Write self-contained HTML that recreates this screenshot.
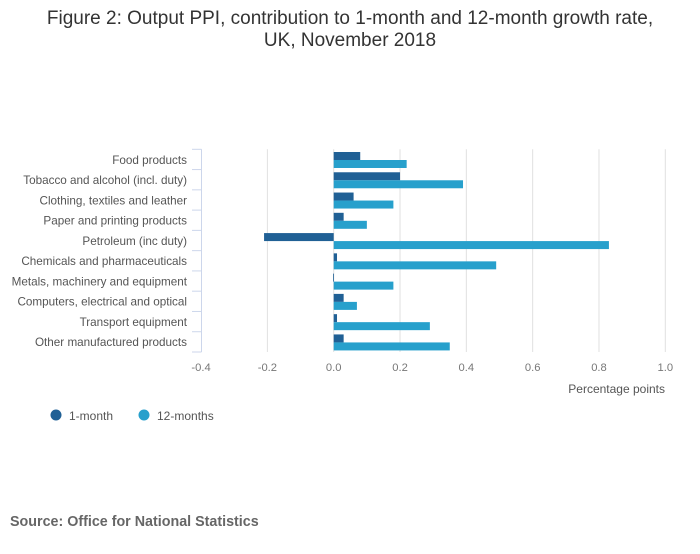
<!DOCTYPE html>
<html><head><meta charset="utf-8"><style>
body{margin:0;width:700px;height:549px;background:#fff;font-family:"Liberation Sans",sans-serif;overflow:hidden}
</style></head><body>
<svg width="700" height="549">
<g id="root"></g>
</svg>
<script>
const categories=["Food products","Tobacco and alcohol (incl. duty)","Clothing, textiles and leather","Paper and printing products","Petroleum (inc duty)","Chemicals and pharmaceuticals","Metals, machinery and equipment","Computers, electrical and optical","Transport equipment","Other manufactured products"];
const oneMonth=[0.08,0.2,0.06,0.03,-0.21,0.01,-0.002,0.03,0.01,0.03];
const twelveMonths=[0.22,0.39,0.18,0.1,0.83,0.49,0.18,0.07,0.29,0.35];
const ticks=[-0.4,-0.2,0,0.2,0.4,0.6,0.8,1.0];
const tickLabels=["-0.4","-0.2","0.0","0.2","0.4","0.6","0.8","1.0"];
const NS="http://www.w3.org/2000/svg";
const root=document.getElementById('root');
const x=v=>333.7+v*331.6;
const top0=149.3,rowH=20.27;
const y=i=>top0+i*rowH;
function el(t,a,txt){const e=document.createElementNS(NS,t);for(const k in a)e.setAttribute(k,a[k]);if(txt!==undefined)e.textContent=txt;root.appendChild(e);return e;}
let t=el('text',{x:350,y:24,'text-anchor':'middle','font-size':19,fill:'#333'},'Figure 2: Output PPI, contribution to 1-month and 12-month growth rate,');


t=el('text',{x:350,y:46,'text-anchor':'middle','font-size':19,fill:'#333'},'UK, November 2018');


ticks.forEach((v,i)=>{
 if(i>0){const g=el('line',{x1:x(v),x2:x(v),y1:top0,y2:352,stroke:'#e0e0e0','stroke-width':1});
 
 }
 const l=el('text',{x:x(v),y:371,'text-anchor':'middle','font-size':11.2,fill:'#777'},tickLabels[i]);
 
 
});
let ax=el('line',{x1:201.5,x2:201.5,y1:top0,y2:352,stroke:'#ccd6eb','stroke-width':1});


for(let i=0;i<=categories.length;i++){
 const tk=el('line',{x1:192,x2:201.5,y1:y(i),y2:y(i),stroke:'#ccd6eb','stroke-width':1});
 
 
}
categories.forEach((c,i)=>{
 const l=el('text',{x:187,y:y(i)+14.5,'text-anchor':'end','font-size':11.7,fill:'#555'},c);
 
 
 const a=oneMonth[i],b=twelveMonths[i];
 const r1=el('rect',{x:Math.min(x(0),x(a)),y:y(i)+2.7,width:Math.max(Math.abs(x(a)-x(0)),0.8),height:8,fill:'#206095'});
 
 
 const r2=el('rect',{x:Math.min(x(0),x(b)),y:y(i)+10.7,width:Math.abs(x(b)-x(0)),height:8,fill:'#27a0cc'});
 
 
});
t=el('text',{x:665,y:393,'text-anchor':'end','font-size':12,fill:'#555'},'Percentage points');


let c=el('circle',{cx:56,cy:415,r:5.5,fill:'#206095'});


t=el('text',{x:69,y:420,'font-size':12,fill:'#555'},'1-month');


c=el('circle',{cx:144,cy:415,r:5.5,fill:'#27a0cc'});


t=el('text',{x:157,y:420,'font-size':12,fill:'#555'},'12-months');


t=el('text',{x:10,y:526,'font-size':14.3,'font-weight':'bold',fill:'#666'},'Source: Office for National Statistics');


</script>
</body></html>
